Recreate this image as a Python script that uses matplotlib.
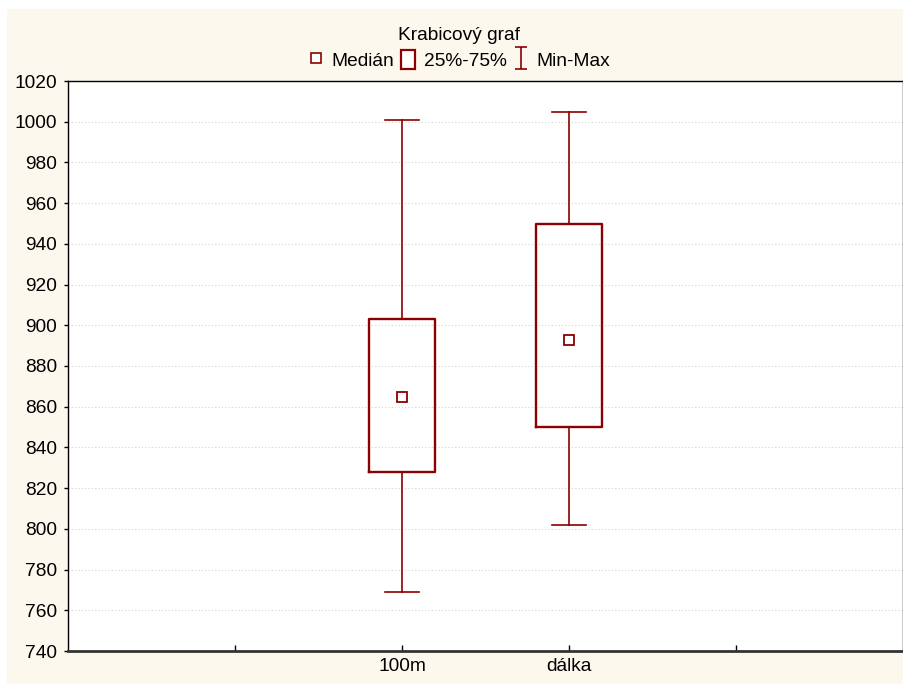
import matplotlib.pyplot as plt
from matplotlib.patches import Rectangle
from matplotlib.lines import Line2D
from matplotlib.path import Path

#  ---------------------  Data  --------------------------
categories = ['100m', 'dálka']
medians = [865, 893]
q1s = [828, 850]
q3s = [903, 950]
mins = [769, 802]
maxs = [1001, 1005]

yticks = list(range(740, 1021, 20))

#  ---------------------  Style  --------------------------
RED = '#8B0000'
CREAM = '#FDF8EE'
plt.rcParams['font.family'] = ['Liberation Sans', 'DejaVu Sans']
plt.rcParams['font.size'] = 13.8

fig = plt.figure(figsize=(9.04, 6.84), dpi=100, facecolor='white')
# cream page behind everything (thin white edge on top/left like the original)
fig.patches.append(Rectangle((7 / 904, 0), 1, 1 - 9 / 684, transform=fig.transFigure,
                             facecolor=CREAM, edgecolor='none', zorder=-10))

ax = fig.add_axes([68 / 904, 1 - 651 / 684, 835 / 904, 570 / 684])
ax.set_facecolor('white')

# box stats built from the arrays above
stats = []
for name, med, lo, hi, mn, mx in zip(categories, medians, q1s, q3s, mins, maxs):
    stats.append({'label': name, 'med': med, 'mean': med, 'q1': lo, 'q3': hi,
                  'whislo': mn, 'whishi': mx, 'fliers': []})

positions = [2, 3]
ax.bxp(stats, positions=positions, widths=0.4, capwidths=0.2,
       showmeans=True, showfliers=False, manage_ticks=False,
       boxprops=dict(color=RED, linewidth=1.7),
       whiskerprops=dict(color=RED, linewidth=1.2),
       capprops=dict(color=RED, linewidth=1.2),
       medianprops=dict(linewidth=0),
       meanprops=dict(marker='s', markerfacecolor='white', markeredgecolor=RED,
                      markersize=7, markeredgewidth=1.3))

ax.set_xlim(0, 5)
ax.set_ylim(740, 1020)
ax.set_yticks(yticks)
ax.set_xticks([1, 2, 3, 4])
ax.set_xticklabels([''] + categories + [''])
ax.tick_params(axis='x', direction='in', length=4, width=1, pad=5)
ax.tick_params(axis='y', direction='out', length=3, width=1, pad=5, right=True)
ax.yaxis.grid(True, linestyle=(0, (1, 2)), color='#d4d4d4', linewidth=0.8)
ax.set_axisbelow(True)

for s in ['left', 'top', 'right']:
    ax.spines[s].set_color('black')
    ax.spines[s].set_linewidth(1)
ax.spines['bottom'].set_color('#333333')
ax.spines['bottom'].set_linewidth(2)

# title and legend on top
fig.text(0.508, 1 - 35 / 684, 'Krabicový graf', ha='center', va='center')

# "I" shaped symbol for the min-max range
ibar = Path([(-0.5, 1), (0.5, 1), (0, 1), (0, -1), (-0.5, -1), (0.5, -1)],
            [Path.MOVETO, Path.LINETO, Path.MOVETO, Path.LINETO, Path.MOVETO, Path.LINETO])

h_med = Line2D([], [], marker='s', ls='none', markerfacecolor='white',
               markeredgecolor=RED, markersize=7, markeredgewidth=1.2)
h_box = Rectangle((0, 0), 1, 1, facecolor='white', edgecolor=RED, linewidth=1.6)
h_rng = Line2D([], [], marker=ibar, ls='none', markerfacecolor='none',
               markeredgecolor=RED, markersize=16, markeredgewidth=1.2)
fig.legend([h_med, h_box, h_rng], ['Medián', '25%-75%', 'Min-Max'],
           loc='center', bbox_to_anchor=(0.508, 1 - 60 / 684), ncol=3,
           frameon=False, handlelength=0.75, handleheight=1.15,
           handletextpad=0.45, columnspacing=0.35, borderpad=0)

fig.savefig('out.png', dpi=100, facecolor=fig.get_facecolor())
